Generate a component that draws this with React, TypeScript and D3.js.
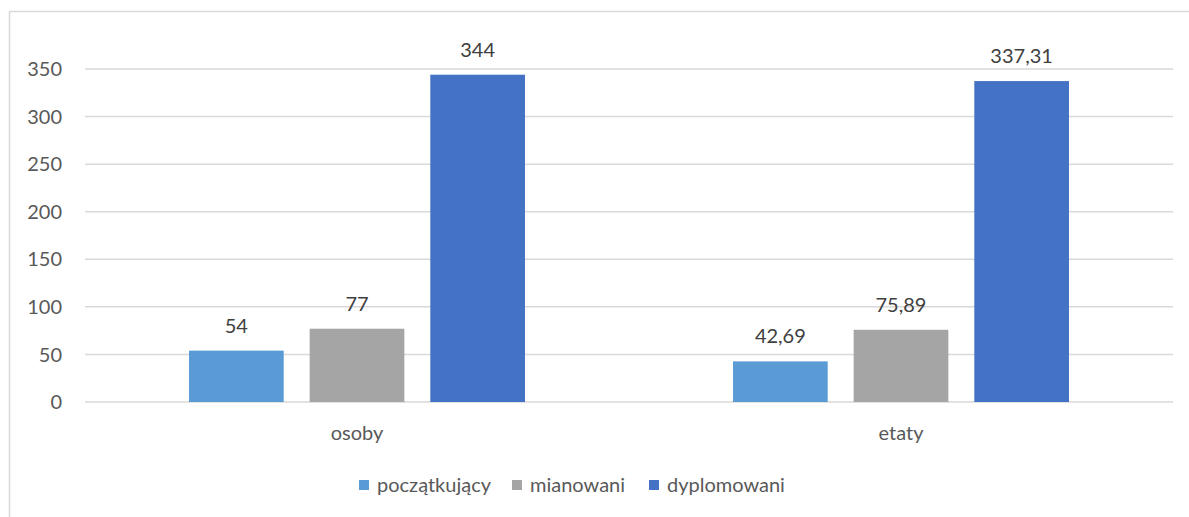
import React, { useRef, useEffect } from 'react';
import * as d3 from 'd3';

const categories = ['osoby', 'etaty'];
const series = ['początkujący', 'mianowani', 'dyplomowani'];
const values: number[][] = [
    [54, 77, 344],
    [42.69, 75.89, 337.31],
];
const yTicks = [0, 50, 100, 150, 200, 250, 300, 350];
const colors = ['#5B9BD5', '#A5A5A5', '#4472C4'];

const W = 1189;
const H = 517;
const FONT = 'Lato, "Open Sans", sans-serif';

const fmt = (v: number) => String(v).replace('.', ',');

const App: React.FC = () => {
    const svgRef = useRef<SVGSVGElement>(null);

    useEffect(() => {
        const svg = d3.select(svgRef.current);
        svg.selectAll('*').remove();

        const plot = { left: 85, right: 1173, top: 69, bottom: 402 };

        // chart frame (right and bottom edges sit outside the picture)
        svg.append('rect')
            .attr('x', 9.5).attr('y', 11.5)
            .attr('width', W).attr('height', H)
            .attr('fill', '#fff')
            .attr('stroke', '#d9d9d9')
            .attr('stroke-width', 1.5);

        const y = d3.scaleLinear().domain([0, 350]).range([plot.bottom, plot.top]);
        const x0 = d3.scaleBand<string>().domain(categories).range([plot.left, plot.right]);
        const cw = x0.bandwidth();
        const groupW = 336;
        const x1 = d3.scaleBand<string>()
            .domain(series)
            .range([(cw - groupW) / 2, (cw + groupW) / 2])
            .paddingInner(0.215);

        // gridlines
        svg.append('g').selectAll('line')
            .data(yTicks)
            .join('line')
            .attr('x1', plot.left).attr('x2', plot.right)
            .attr('y1', d => y(d)).attr('y2', d => y(d))
            .attr('stroke', '#d9d9d9')
            .attr('stroke-width', 1.5);

        // y tick labels
        svg.append('g').selectAll('text')
            .data(yTicks)
            .join('text')
            .attr('x', 62)
            .attr('y', d => y(d))
            .attr('dy', '0.36em')
            .attr('text-anchor', 'end')
            .attr('fill', '#595959')
            .style('font-family', FONT)
            .style('font-size', '20px')
            .text(d => String(d));

        // bars + labels
        categories.forEach((cat, ci) => {
            const g = svg.append('g').attr('transform', `translate(${x0(cat)},0)`);
            series.forEach((s, si) => {
                const v = values[ci][si];
                g.append('rect')
                    .attr('x', x1(s)!)
                    .attr('y', y(v))
                    .attr('width', x1.bandwidth())
                    .attr('height', y(0) - y(v))
                    .attr('fill', colors[si]);
                g.append('text')
                    .attr('x', x1(s)! + x1.bandwidth() / 2)
                    .attr('y', y(v) - 18)
                    .attr('text-anchor', 'middle')
                    .attr('fill', '#404040')
                    .style('font-family', FONT)
                    .style('font-size', '20px')
                    .text(fmt(v));
            });
            svg.append('text')
                .attr('x', x0(cat)! + cw / 2)
                .attr('y', 440)
                .attr('text-anchor', 'middle')
                .attr('fill', '#595959')
                .style('font-family', FONT)
                .style('font-size', '20px')
                .text(cat);
        });

        // legend
        const legendX = [359, 512, 649];
        const lg = svg.append('g');
        series.forEach((s, i) => {
            lg.append('rect')
                .attr('x', legendX[i]).attr('y', 480)
                .attr('width', 10).attr('height', 10)
                .attr('fill', colors[i]);
            lg.append('text')
                .attr('x', legendX[i] + 18)
                .attr('y', 492)
                .attr('fill', '#595959')
                .style('font-family', FONT)
                .style('font-size', '20px')
                .text(s);
        });
    }, []);

    return (
        <svg
            ref={svgRef}
            width={W}
            height={H}
            style={{ position: 'absolute', left: 0, top: 0, background: '#fff' }}
        />
    );
};

export default App;
